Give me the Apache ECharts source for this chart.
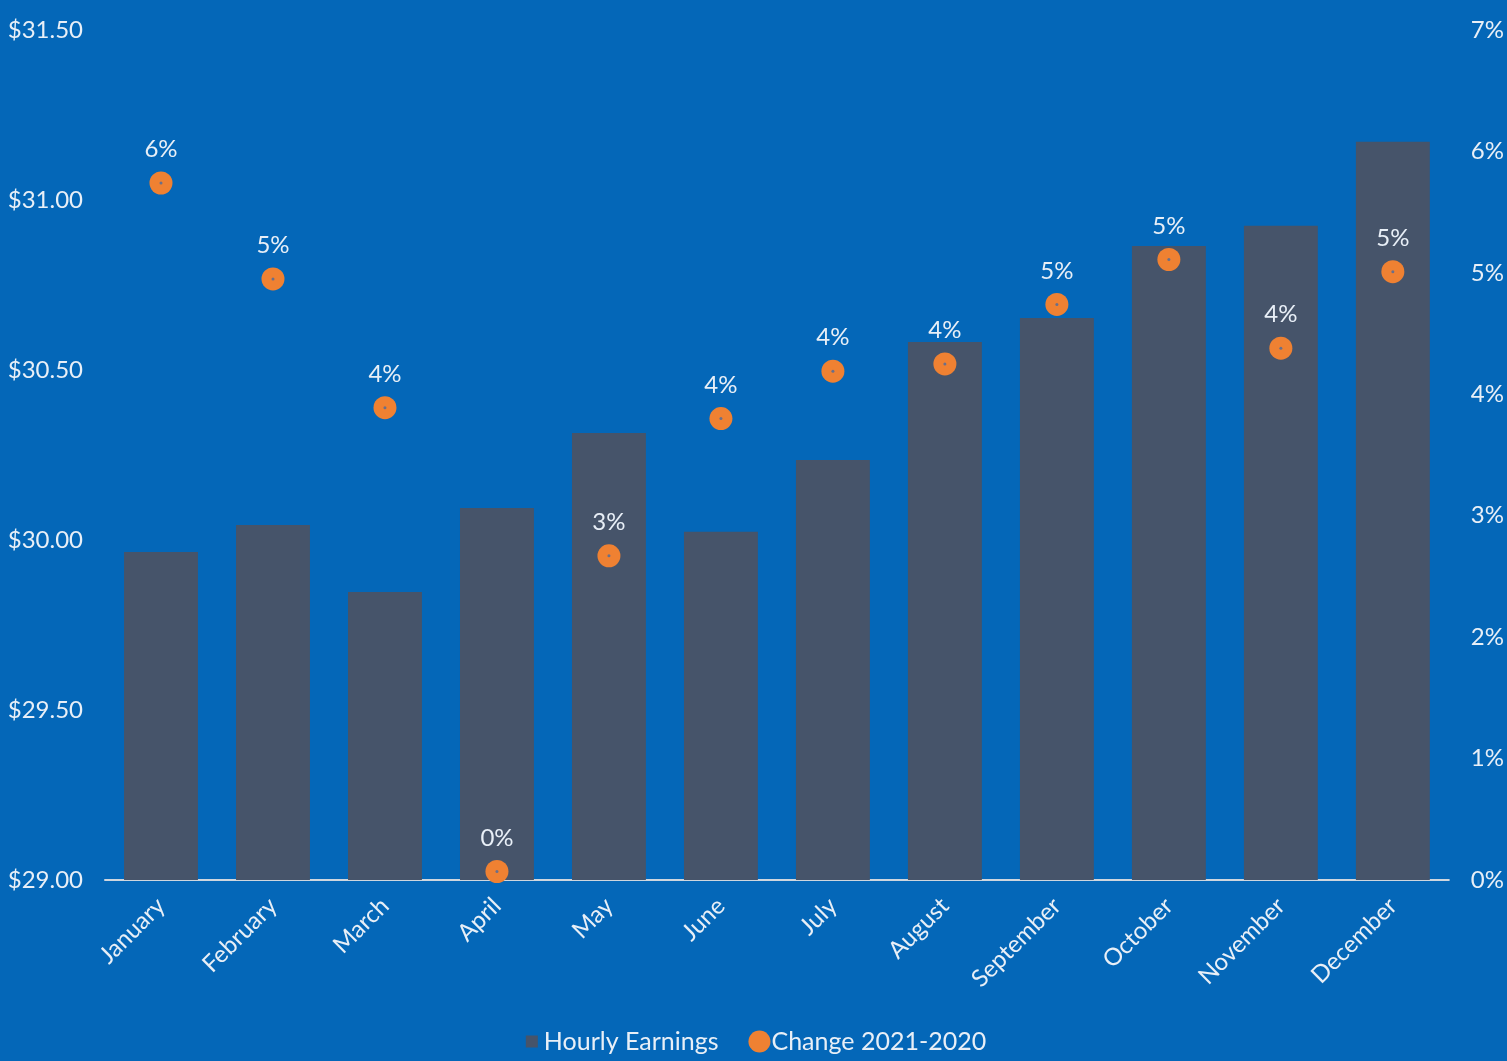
<!DOCTYPE html>
<html>
<head>
<meta charset="utf-8">
<script src="https://cdn.jsdelivr.net/npm/echarts@6/dist/echarts.min.js"></script>
<style>
html,body{margin:0;padding:0;background:#0467b8;}
#c{width:1507px;height:1061px;}
</style>
</head>
<body>
<div id="c"></div>
<script>
const categories = ["January","February","March","April","May","June","July","August","September","October","November","December"];
const hourlyEarnings = [29.965, 30.044, 29.847, 30.094, 30.315, 30.024, 30.235, 30.582, 30.653, 30.865, 30.924, 31.171];
const changePct = [5.74, 4.95, 3.89, 0.07, 2.67, 3.80, 4.19, 4.25, 4.74, 5.11, 4.38, 5.01];
const leftTicks = [29.0, 29.5, 30.0, 30.5, 31.0, 31.5];
const rightTicks = [0, 1, 2, 3, 4, 5, 6, 7];

const FONT = 'Lato';
const TXT = '#e8eff7';
const chart = echarts.init(document.getElementById('c'));
chart.setOption({
  backgroundColor: '#0467b8',
  textStyle: {fontFamily: FONT},
  animation: false,
  grid: {left: 105, right: 57, top: 30, bottom: 181},
  legend: {
    data: [
      {name: 'Hourly Earnings', icon: 'path://M0,0L0.01,0M5,5h12v12h-12zM22,22L21.99,22', itemStyle: {color: '#46546a'}},
      {name: 'Change 2021-2020', icon: 'circle'}
    ],
    bottom: 2, left: 'center',
    itemGap: 30, itemWidth: 22, itemHeight: 22,
    textStyle: {color: TXT, fontSize: 25, fontFamily: FONT, padding: [0,0,0,-4]}
  },
  xAxis: {
    type: 'category', data: categories,
    axisLine: {lineStyle: {color: '#cfd6de', width: 2}},
    axisTick: {show: false},
    axisLabel: {color: TXT, fontSize: 24, rotate: 45, margin: 22, interval: 0, fontFamily: FONT}
  },
  yAxis: [
    {type: 'value', min: 29, max: 31.5, interval: 0.5, position: 'left',
     splitLine: {show: false}, axisLine: {show: false}, axisTick: {show: false},
     axisLabel: {color: TXT, fontSize: 24, margin: 22, fontFamily: FONT,
       formatter: v => '$' + v.toFixed(2)}},
    {type: 'value', min: 0, max: 7, interval: 1, position: 'right',
     splitLine: {show: false}, axisLine: {show: false}, axisTick: {show: false},
     axisLabel: {color: TXT, fontSize: 24, margin: 22, fontFamily: FONT,
       formatter: v => v + '%'}}
  ],
  series: [
    {name: 'Hourly Earnings', type: 'bar', data: hourlyEarnings, yAxisIndex: 0,
     barCategoryGap: '34%', itemStyle: {color: '#46546a'}},
    {name: 'Change 2021-2020', type: 'scatter', data: changePct, yAxisIndex: 1,
     symbolSize: 23, itemStyle: {color: '#ef8132', opacity: 1}, z: 5,
     label: {show: true, position: 'top', distance: 10, color: TXT, fontSize: 24, fontFamily: FONT,
       formatter: p => Math.round(p.value) + '%'}},
    {name: 'dot', type: 'scatter', data: changePct, yAxisIndex: 1,
     symbolSize: 3, itemStyle: {color: '#6a6f8a', opacity: 1}, z: 6, silent: true}
  ]
});
</script>
</body>
</html>
